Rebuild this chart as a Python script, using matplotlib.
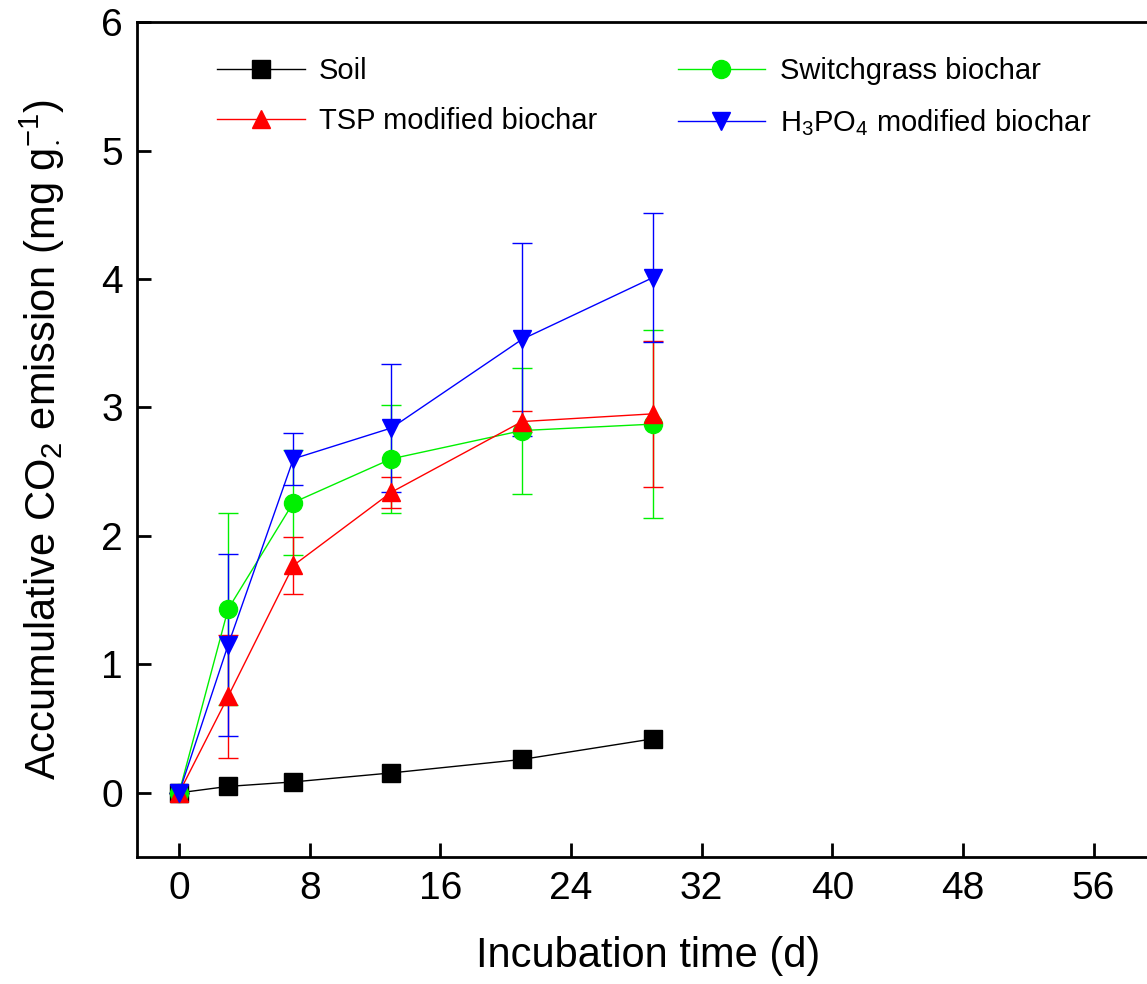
import matplotlib
matplotlib.use("Agg")
import matplotlib.pyplot as plt
import numpy as np

plt.rcParams['font.family'] = ['Liberation Sans', 'DejaVu Sans']
plt.rcParams['mathtext.fontset'] = 'custom'
plt.rcParams['mathtext.rm'] = 'Liberation Sans'
plt.rcParams['mathtext.it'] = 'Liberation Sans:italic'
plt.rcParams['mathtext.bf'] = 'Liberation Sans:bold'

# Data
days = [0, 3, 7, 13, 21, 29]
soil = [0.0, 0.05, 0.085, 0.155, 0.26, 0.42]
switchgrass = [0.0, 1.43, 2.26, 2.60, 2.82, 2.87]
switchgrass_err = [0.0, 0.75, 0.41, 0.42, 0.49, 0.73]
tsp = [0.0, 0.75, 1.77, 2.34, 2.89, 2.95]
tsp_err = [0.0, 0.48, 0.22, 0.12, 0.08, 0.57]
h3po4 = [0.0, 1.15, 2.60, 2.84, 3.53, 4.01]
h3po4_err = [0.0, 0.71, 0.20, 0.50, 0.75, 0.50]

labels = ['Soil', 'Switchgrass biochar', 'TSP modified biochar',
          r'H$_3$PO$_4$ modified biochar']
xticks = [0, 8, 16, 24, 32, 40, 48, 56]
yticks = [0, 1, 2, 3, 4, 5, 6]

fig = plt.figure(figsize=(11.47, 9.84), dpi=100)
ax = fig.add_axes([0.1194, 0.129, 0.891, 0.8486])

ms = 13
lw = 1.0
cs = 7
h_soil, = ax.plot(days, soil, color='black', marker='s', ms=ms, lw=lw, zorder=3)
e_sw = ax.errorbar(days, switchgrass, yerr=switchgrass_err, color='#00F000', marker='o',
                   ms=ms, lw=lw, capsize=cs, elinewidth=1.0, capthick=1.0, zorder=3)
e_tsp = ax.errorbar(days, tsp, yerr=tsp_err, color='#FF0000', marker='^',
                    ms=ms, lw=lw, capsize=cs, elinewidth=1.0, capthick=1.0, zorder=3)
e_h = ax.errorbar(days, h3po4, yerr=h3po4_err, color='#0000FF', marker='v',
                  ms=ms, lw=lw, capsize=cs, elinewidth=1.0, capthick=1.0, zorder=3)

ax.set_xlim(-2.58, 60)
ax.set_ylim(-0.5, 6)
ax.set_xticks(xticks)
ax.set_yticks(yticks)
ax.tick_params(direction='in', length=10, width=2, labelsize=28, pad=10)
for s in ax.spines.values():
    s.set_linewidth(2)
ax.spines['right'].set_visible(False)

ax.set_xlabel('Incubation time (d)', fontsize=30, labelpad=21)
ax.set_ylabel(r'Accumulative CO$_2$ emission (mg g$^{-1}_{\cdot}$)', fontsize=30, labelpad=27)

handles = [h_soil, e_tsp.lines[0], e_sw.lines[0], e_h.lines[0]]
leg_labels = [labels[0], labels[2], labels[1], labels[3]]
ax.legend(handles, leg_labels, ncol=2, loc='upper left',
          bbox_to_anchor=(217 / 1147, 1 - 57 / 984), bbox_transform=fig.transFigure,
          frameon=False, fontsize=21, handlelength=3.0, handletextpad=0.5,
          columnspacing=2.75, labelspacing=0.75, borderpad=0, borderaxespad=0)

fig.savefig('out.png', dpi=100)
